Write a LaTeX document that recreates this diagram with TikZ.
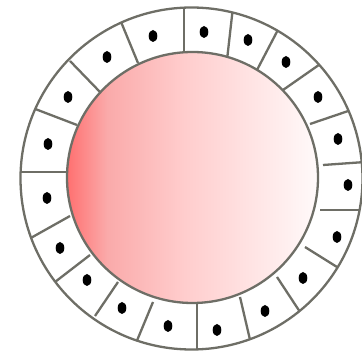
\documentclass[tikz,border=0pt]{standalone}
\usetikzlibrary{calc}
\definecolor{wallgray}{RGB}{110,110,102}
\definecolor{yolkL}{RGB}{255,112,112}
\definecolor{yolkA}{RGB}{250,170,170}
\definecolor{yolkM}{RGB}{255,204,204}
\definecolor{yolkR}{RGB}{255,250,250}
% horizontal yolk shading; the path box maps onto 25bp..75bp
\pgfdeclarehorizontalshading{yolk}{100bp}{%
  color(0bp)=(yolkL); color(25bp)=(yolkL); color(33bp)=(yolkA);
  color(48bp)=(yolkM); color(75bp)=(yolkR); color(100bp)=(yolkR)}
\tikzset{
  wall/.style={draw=wallgray, line width=2.3pt},
  nucleus/.style={fill=black, draw=none},
}
\begin{document}
\begin{tikzpicture}[x=1pt,y=-1pt]
\useasboundingbox (0,0) rectangle (362,355);
% outer ring of cells
\fill[white] (191.5,178.5) circle (171);
% cell walls between neighbouring cells, kept inside the ring
\begin{scope}
  \clip (191.5,178.5) circle (171);
  \foreach \xa/\ya/\xb/\yb in {
    184/5/184/60, 233/7/227/60, 281/24/257/70, 326/60/283/90,
    360/107/310/124, 365/162/323/165, 365/210/320/210, 345/272/305/247,
    302/315/277/277, 251/344/240/297, 197/355/197/300, 136/343/153/302,
    95/316/118/282, 55/282/90/255, 29/239/70/216, 20/172/70/172,
    30/107/77/125, 70/61/100/92, 119/17/138/63}
    \draw[wall] (\xa,\ya) -- (\xb,\yb);
\end{scope}
\draw[wall] (191.5,178.5) circle (171);
% central yolk
\shade[shading=yolk] (192.5,177.5) circle (125.5);
\draw[wall] (192.5,177.5) circle (125.5);
% nuclei
\foreach \x/\y in {
  153/36, 204/32, 248/40, 286/62, 318/97, 338/139, 348/185,
  337/237, 303/278, 265/311, 217/330, 168/326, 122/308, 87/280,
  60/248, 47/198, 48/144, 68/97, 107/57}
  \fill[nucleus] (\x,\y) ellipse (4.3 and 6);
\end{tikzpicture}
\end{document}
